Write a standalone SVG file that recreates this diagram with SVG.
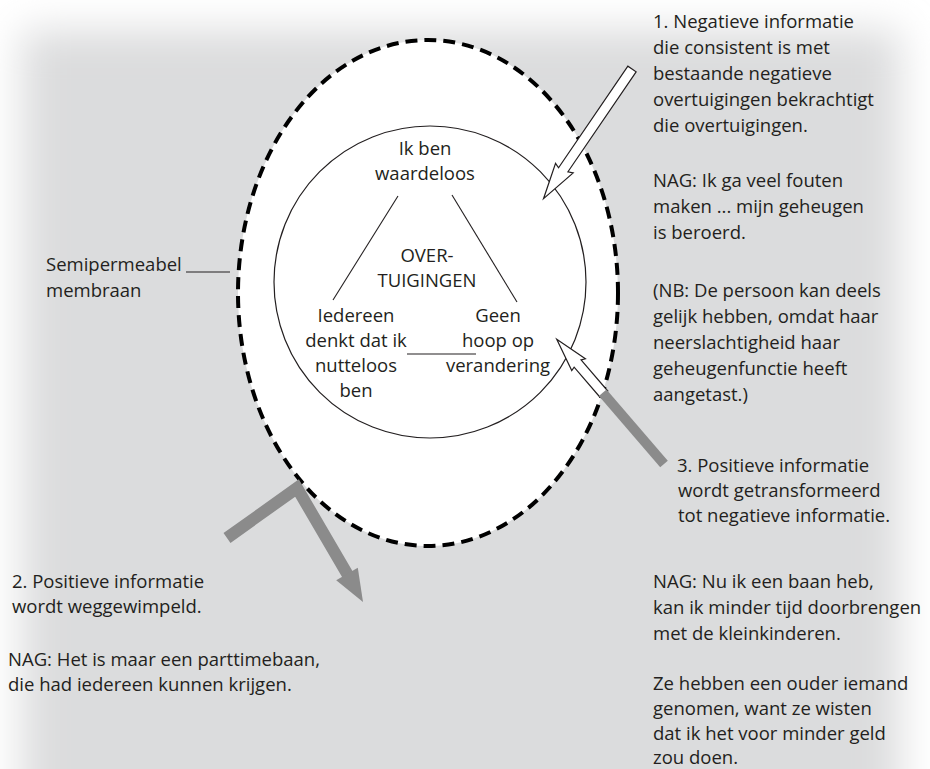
<svg xmlns="http://www.w3.org/2000/svg" width="930" height="769" viewBox="0 0 930 769">
<style>
  text { font-family: "Open Sans", "Noto Sans", "Liberation Sans", sans-serif; font-size: 18.5px; fill: #231f20; }
  .mid { text-anchor: middle; }
  .thin { fill: none; stroke: #231f20; stroke-width: 1.1; }
  .hollow { fill: #ffffff; stroke: #231f20; stroke-width: 1.2; stroke-linejoin: miter; }
  .grey { fill: #8b8b8b; }
</style>
<defs>
  <filter id="soft" filterUnits="userSpaceOnUse" x="-200" y="-200" width="1330" height="1200">
    <feGaussianBlur stdDeviation="20"/>
  </filter>
</defs>

<g id="background">
  <rect x="0" y="0" width="930" height="769" fill="#ffffff"/>
  <rect x="22" y="30" width="878" height="820" fill="#dbdcdd" filter="url(#soft)"/>
</g>

<g id="membrane">
  <ellipse cx="428" cy="293" rx="190" ry="253" fill="#ffffff" stroke="#000000" stroke-width="4" stroke-dasharray="12 7"/>
</g>

<g id="core">
  <circle cx="430" cy="282" r="156" fill="#ffffff" stroke="#231f20" stroke-width="1.2"/>
</g>

<g id="connectors">
  <line class="thin" x1="398" y1="196" x2="333" y2="300"/>
  <line class="thin" x1="452" y1="195" x2="517" y2="302"/>
  <line class="thin" x1="407" y1="354" x2="476" y2="354"/>
  <!-- arrow 1: negative information enters -->
  <g id="arrow1" transform="translate(632 69) rotate(124.3)">
    <polygon class="hollow" points="0,-5 121,-5 119,-10 157,0 121,10 123,5 0,5"/>
  </g>
  <!-- arrow 2: positive information deflected -->
  <g id="arrow2">
    <polyline points="227,538 297,488 349,577" fill="none" stroke="#8b8b8b" stroke-width="12" stroke-linejoin="miter"/>
    <polygon class="grey" points="363,602 357.8,567.8 336.2,580.3"/>
  </g>
  <!-- arrow 3: positive information transformed -->
  <g id="arrow3" transform="translate(664 464) rotate(-130.7)">
    <polygon class="hollow" points="92,-5 132,-5 131,-9 164.5,0 131,9 133,5 92,5"/>
    <rect class="grey" x="0" y="-5" width="94" height="10"/>
  </g>
</g>

<g id="node-waardeloos">
  <text class="mid" x="425" y="155">Ik ben</text>
  <text class="mid" x="425" y="180">waardeloos</text>
</g>
<g id="node-overtuigingen">
  <text class="mid" x="427" y="262">OVER-</text>
  <text class="mid" x="427" y="287">TUIGINGEN</text>
</g>
<g id="node-iedereen">
  <text class="mid" x="356" y="322">Iedereen</text>
  <text class="mid" x="356" y="347">denkt dat ik</text>
  <text class="mid" x="356" y="372">nutteloos</text>
  <text class="mid" x="356" y="397">ben</text>
</g>
<g id="node-geen-hoop">
  <text class="mid" x="498" y="322">Geen</text>
  <text class="mid" x="498" y="347">hoop op</text>
  <text class="mid" x="498" y="372">verandering</text>
</g>

<g id="label-membraan">
  <text x="46" y="271">Semipermeabel</text>
  <text x="46" y="297">membraan</text>
  <line x1="186" y1="272" x2="230" y2="272" stroke="#231f20" stroke-width="1.2"/>
</g>

<g id="note-1">
  <text x="653" y="28">1. Negatieve informatie</text>
  <text x="653" y="54">die consistent is met</text>
  <text x="653" y="80">bestaande negatieve</text>
  <text x="653" y="106">overtuigingen bekrachtigt</text>
  <text x="653" y="132">die overtuigingen.</text>
  <text x="653" y="187">NAG: Ik ga veel fouten</text>
  <text x="653" y="213">maken ... mijn geheugen</text>
  <text x="653" y="239">is beroerd.</text>
  <text x="653" y="297">(NB: De persoon kan deels</text>
  <text x="653" y="323">gelijk hebben, omdat haar</text>
  <text x="653" y="349">neerslachtigheid haar</text>
  <text x="653" y="375">geheugenfunctie heeft</text>
  <text x="653" y="401">aangetast.)</text>
</g>

<g id="note-3">
  <text x="677" y="472">3. Positieve informatie</text>
  <text x="678" y="497">wordt getransformeerd</text>
  <text x="678" y="522">tot negatieve informatie.</text>
  <text x="653" y="588">NAG: Nu ik een baan heb,</text>
  <text x="653" y="614">kan ik minder tijd doorbrengen</text>
  <text x="653" y="640">met de kleinkinderen.</text>
  <text x="653" y="690">Ze hebben een ouder iemand</text>
  <text x="653" y="715">genomen, want ze wisten</text>
  <text x="653" y="740">dat ik het voor minder geld</text>
  <text x="653" y="764">zou doen.</text>
</g>

<g id="note-2">
  <text x="12" y="588">2. Positieve informatie</text>
  <text x="12" y="613">wordt weggewimpeld.</text>
  <text x="8" y="666">NAG: Het is maar een parttimebaan,</text>
  <text x="8" y="691">die had iedereen kunnen krijgen.</text>
</g>
</svg>
